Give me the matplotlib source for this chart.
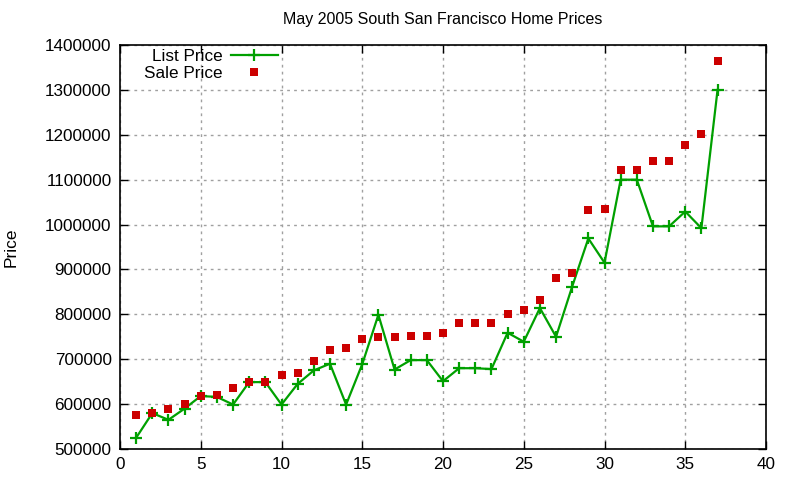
import matplotlib
matplotlib.use("Agg")
import matplotlib.pyplot as plt
from matplotlib.ticker import MultipleLocator

plt.rcParams['font.family'] = ['Liberation Sans', 'DejaVu Sans']

homes = list(range(1, 38))
list_price = [525000, 580000, 565000, 590000, 618000, 616000, 599000, 649000, 649000, 599000,
              645000, 675000, 690000, 599000, 689000, 799000, 677000, 698000, 698000, 651000,
              680000, 680000, 678000, 759000, 739000, 814000, 750000, 862000, 969000, 915000,
              1100000, 1100000, 996000, 996000, 1029000, 992000, 1300000]
sale_price = [576000, 580000, 589000, 600000, 618000, 620000, 636000, 650000, 650000, 665000,
              669000, 696000, 721000, 725000, 744000, 749000, 749000, 751000, 751000, 759000,
              781000, 781000, 781000, 800000, 810000, 831000, 881000, 891000, 1032000, 1034000,
              1121000, 1121000, 1141000, 1141000, 1177000, 1201000, 1365000]

fig = plt.figure(figsize=(8, 4.8), dpi=100)
ax = fig.add_axes([120/800, 31/480, 646/800, 404/480])

green = '#00a000'
red = '#cc0000'
ax.plot(homes, list_price, color=green, lw=1.6, marker='+', ms=8, mew=1.6, label='List Price', zorder=3)
ax.plot(homes, sale_price, ls='none', color=red, marker='s', ms=6.2, mew=0, label='Sale Price', zorder=4)

ax.set_xlim(0, 40)
ax.set_ylim(500000, 1400000)
ax.xaxis.set_major_locator(MultipleLocator(5))
ax.yaxis.set_major_locator(MultipleLocator(100000))
ax.ticklabel_format(style='plain', axis='y', useOffset=False)
ax.grid(True, color='#a0a0a0', ls=(0, (2, 3)), lw=1)
ax.tick_params(direction='in', top=True, right=True, length=6, width=1, labelsize=12.3, pad=6)
for s in ax.spines.values():
    s.set_linewidth(1.2)

ax.set_title('May 2005 South San Francisco Home Prices', fontsize=11.5, pad=15)
ax.set_ylabel('Price', fontsize=12.5, labelpad=19)

leg = ax.legend(loc='upper left', markerfirst=False, frameon=False, fontsize=12.3,
                bbox_to_anchor=(0.019, 1.02), handlelength=2.7, handletextpad=0.5,
                labelspacing=0.1, borderaxespad=0.3)
for t in leg.get_texts():
    t.set_ha('right')

fig.savefig('out.png', dpi=100)
